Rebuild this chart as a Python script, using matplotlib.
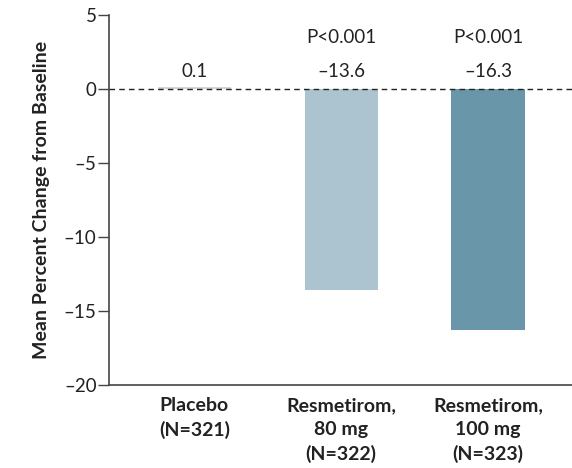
import matplotlib
matplotlib.use("Agg")
import matplotlib.pyplot as plt

groups = ["Placebo\n(N=321)", "Resmetirom,\n80 mg\n(N=322)", "Resmetirom,\n100 mg\n(N=323)"]
changes = [0.1, -13.6, -16.3]
value_labels = ["0.1", "\u201313.6", "\u201316.3"]
p_labels = ["", "P<0.001", "P<0.001"]
colors = ["#d4d4d4", "#abc4cf", "#6a96aa"]
yticks = [5, 0, -5, -10, -15, -20]

plt.rcParams['font.family'] = ['Lato', 'DejaVu Sans']

fig = plt.figure(figsize=(5.72, 4.68), dpi=100)
ax = fig.add_axes([0.1906, 0.1774, 0.8094, 0.7906])

x = list(range(len(groups)))
ax.bar(x, changes, width=0.5, color=colors)
ax.axhline(0, color="#222222", lw=1, ls=(0, (4, 3)))

for i in x:
    ax.text(i, 1.15, value_labels[i], ha="center", va="center", fontsize=13.5, color="#222222")
    if p_labels[i]:
        ax.text(i, 3.5, p_labels[i], ha="center", va="center", fontsize=13.5, color="#222222")

ax.set_xlim(-0.58, 2.57)
ax.set_ylim(-20, 5)
ax.set_yticks(yticks)
ax.set_yticklabels([str(t).replace("-", "\u2013") for t in yticks], fontsize=13.5, color="#222222")
ax.set_xticks(x)
ax.set_xticklabels(groups, fontsize=14, fontweight="bold", color="#222222", linespacing=1.45)
ax.tick_params(axis="x", length=0, pad=9)
ax.tick_params(axis="y", length=8, width=1, color="#444444", pad=1)

for s in ["top", "right"]:
    ax.spines[s].set_visible(False)
for s in ["left", "bottom"]:
    ax.spines[s].set_color("#444444")
    ax.spines[s].set_linewidth(1.2)

ax.set_ylabel("Mean Percent Change from Baseline", fontsize=14, fontweight="bold", color="#222222", labelpad=10)

fig.savefig("out.png", dpi=100)
